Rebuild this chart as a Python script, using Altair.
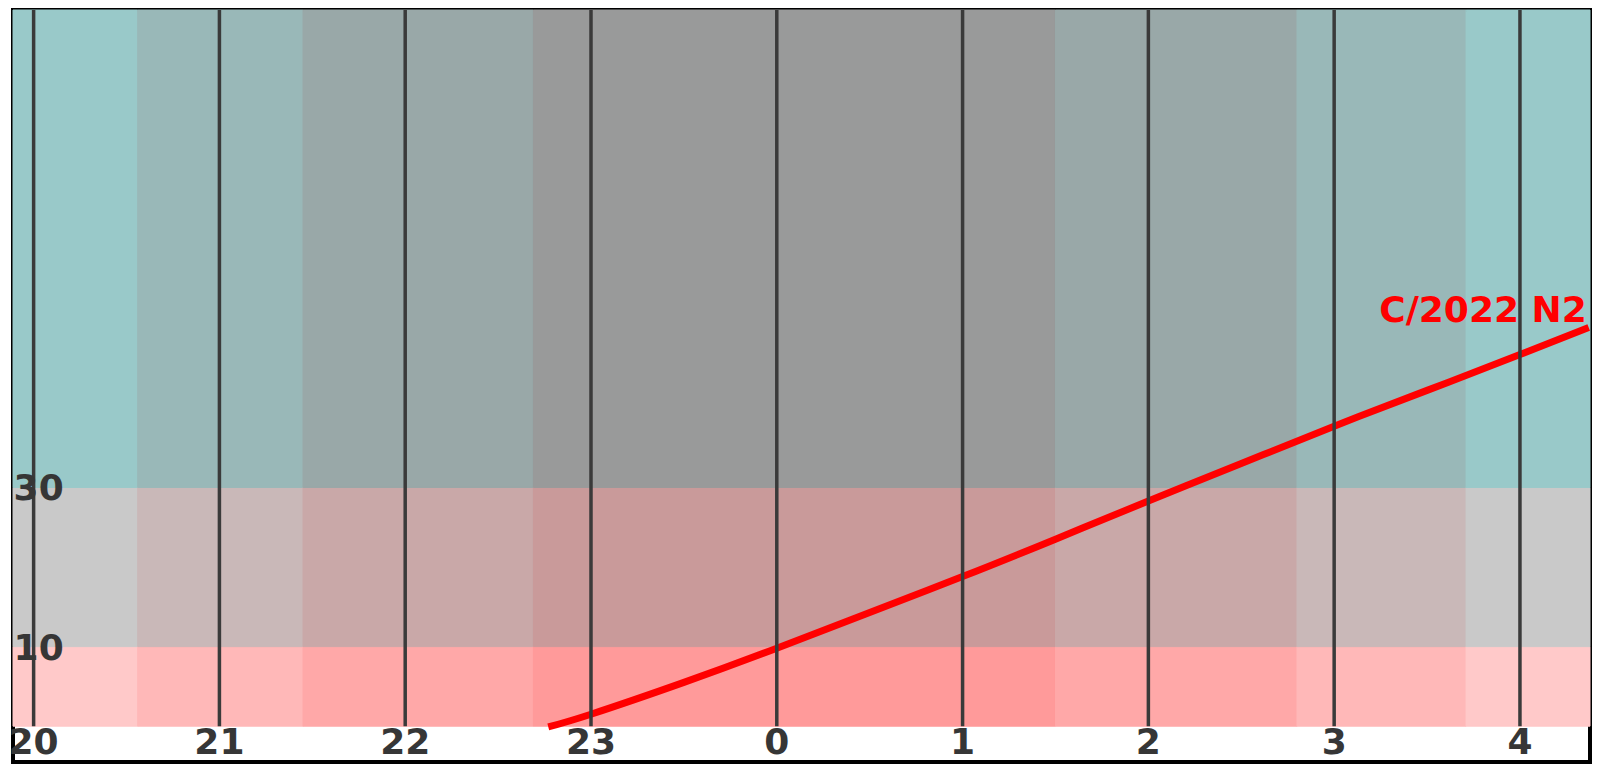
import altair as alt
import pandas as pd

# ---- data ----
hour_labels = [20, 21, 22, 23, 0, 1, 2, 3, 4]
hour_positions = [20, 21, 22, 23, 24, 25, 26, 27, 28]   # hours after midnight continue as 24+

twilight_edges = [19.889, 20.56, 21.45, 22.69, 25.50, 26.80, 27.71, 28.377]
twilight_levels = [0, 1, 2, 3, 2, 1, 0]

altitude_edges = [0, 10, 30, 90]
altitude_ticks = [10, 30]

comet_time = [22.77, 23.0, 23.5, 24.0, 24.5, 25.0, 25.5, 26.0, 26.5, 27.0, 27.5, 28.0, 28.37]
comet_alt = [-0.1, 1.5, 5.5, 9.8, 14.3, 18.8, 23.5, 28.3, 33.0, 37.7, 42.2, 46.7, 50.1]
comet_name = "C/2022 N2"

# ---- styles ----
row_rgb = [(255, 201, 201), (201, 201, 201), (153, 201, 201)]
level_factor = [1.0, 0.915, 0.835, 0.765]

X_DOMAIN = [19.889, 28.377]
Y_DOMAIN = [-4.5, 90]
FONT = "DejaVu Sans"
TEXT_COLOR = "#363636"


def cell_color(row, level):
    r, g, b = row_rgb[row]
    f = level_factor[level]
    return "#%02x%02x%02x" % (r, round(g * f), round(b * f))


cells = []
for i, lvl in enumerate(twilight_levels):
    for j in range(len(altitude_edges) - 1):
        cells.append({
            "t0": twilight_edges[i], "t1": twilight_edges[i + 1],
            "a0": altitude_edges[j], "a1": altitude_edges[j + 1],
            "color": cell_color(j, lvl),
        })
cells_df = pd.DataFrame(cells)

hours_df = pd.DataFrame({"pos": hour_positions, "label": [str(h) for h in hour_labels],
                         "a0": [altitude_edges[0]] * len(hour_positions),
                         "a1": [altitude_edges[-1]] * len(hour_positions)})
alt_df = pd.DataFrame({"alt": altitude_ticks, "label": [str(a) for a in altitude_ticks],
                       "pos": [20.027] * len(altitude_ticks)})
comet_df = pd.DataFrame({"t": comet_time, "alt": comet_alt})
label_df = pd.DataFrame({"t": [comet_time[-1]], "alt": [comet_alt[-1]], "name": [comet_name]})

xs = alt.Scale(domain=X_DOMAIN, nice=False, zero=False)
ys = alt.Scale(domain=Y_DOMAIN, nice=False, zero=False)

bands = alt.Chart(cells_df).mark_rect(strokeWidth=1).encode(
    x=alt.X("t0:Q", scale=xs, axis=None), x2="t1:Q",
    y=alt.Y("a0:Q", scale=ys, axis=None), y2="a1:Q",
    color=alt.Color("color:N", scale=None),
    stroke=alt.Stroke("color:N", scale=None),
)

curve = alt.Chart(comet_df).mark_line(color="#ff0000", strokeWidth=7, interpolate="natural").encode(
    x=alt.X("t:Q", scale=xs, axis=None),
    y=alt.Y("alt:Q", scale=ys, axis=None),
)

rules = alt.Chart(hours_df).mark_rule(color="#3a3a3a", strokeWidth=3.5).encode(
    x=alt.X("pos:Q", scale=xs, axis=None),
    y=alt.Y("a0:Q", scale=ys, axis=None), y2="a1:Q",
)

hour_text = alt.Chart(hours_df).mark_text(
    font=FONT, fontWeight="bold", fontSize=36, color=TEXT_COLOR,
    align="center", baseline="alphabetic", dy=28,
).encode(
    x=alt.X("pos:Q", scale=xs, axis=None),
    y=alt.Y("a0:Q", scale=ys, axis=None),
    text="label:N",
)

alt_text = alt.Chart(alt_df).mark_text(
    font=FONT, fontWeight="bold", fontSize=36, color=TEXT_COLOR,
    align="center", baseline="alphabetic", dy=13,
).encode(
    x=alt.X("pos:Q", scale=xs, axis=None),
    y=alt.Y("alt:Q", scale=ys, axis=None),
    text="label:N",
)

comet_text = alt.Chart(label_df).mark_text(
    font=FONT, fontWeight="bold", fontSize=36, color="#ff0000",
    align="right", baseline="alphabetic", dy=-6, dx=-2,
).encode(
    x=alt.X("t:Q", scale=xs, axis=None),
    y=alt.Y("alt:Q", scale=ys, axis=None),
    text="name:N",
)

chart = alt.layer(bands, curve, rules, hour_text, alt_text, comet_text).properties(
    width=1577, height=752,
    autosize=alt.AutoSizeParams(type="none"),
    padding={"left": 5, "top": 2, "right": 2, "bottom": 2},
    background="white",
).configure_view(stroke="black", strokeWidth=4)

chart.save("out.html", embed_options={"renderer": "svg", "actions": False})
